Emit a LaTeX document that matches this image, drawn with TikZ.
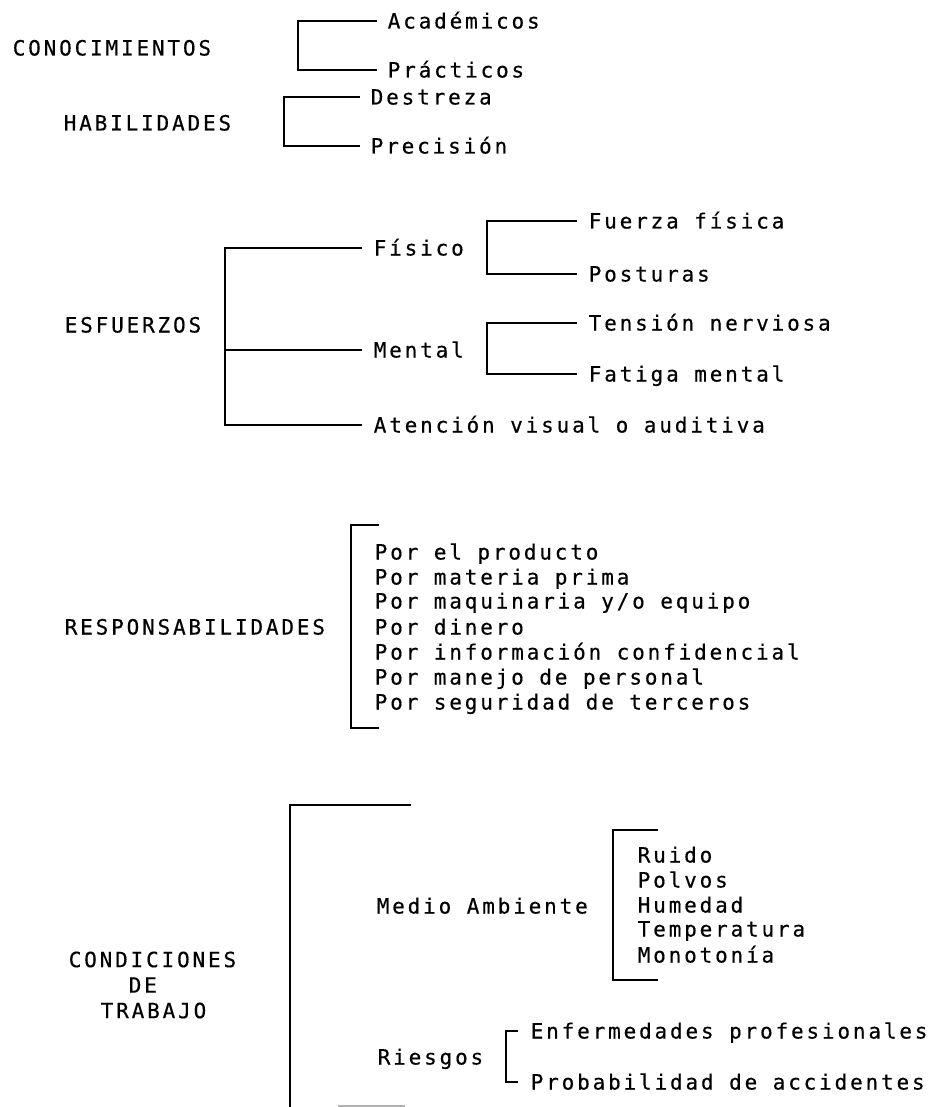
\documentclass[tikz,border=0pt]{standalone}
\usepackage{fontspec}
\setmainfont{DejaVu Sans Mono}[LetterSpace=13.5,FakeBold=0.4]
\begin{document}
\begin{tikzpicture}[x=1pt,y=-1pt, line width=1.5pt,
  every node/.style={font=\fontsize{21}{25.5}\selectfont, inner sep=0pt},
  lbl/.style={anchor=west, text height=15pt, text depth=0pt},
  leaf/.style={anchor=west, text height=15pt, text depth=0pt, inner xsep=#1},
  leaf/.default=10pt,
  faint/.style={draw=black!30, line width=1.2pt}]
\useasboundingbox (0,0) rectangle (928,1107);

% ---------- CONOCIMIENTOS ----------
\node[lbl] (con) at (12,48) {CONOCIMIENTOS};
\node[leaf=10pt] (acad) at (377,21) {Académicos};
\node[leaf=10pt] (prac) at (377,70) {Prácticos};
\coordinate (b1) at (298,46);
\draw (acad.west) -| (b1) |- (prac.west);

% ---------- HABILIDADES ----------
\node[lbl] (hab) at (63,123) {HABILIDADES};
\node[leaf=10pt] (des) at (360,97) {Destreza};
\node[leaf=10pt] (pre) at (360,146) {Precisión};
\coordinate (b2) at (284,121);
\draw (des.west) -| (b2) |- (pre.west);

% ---------- ESFUERZOS ----------
\node[lbl] (esf) at (64,325) {ESFUERZOS};
\node[leaf=11pt] (fis) at (362,248) {Físico};
\node[leaf=11pt] (men) at (362,350) {Mental};
\node[leaf=11pt] (ate) at (362,425) {Atención visual o auditiva};
\coordinate (e1) at (225,330);
\draw (fis.west) -| (e1) |- (ate.west);
\draw (men.west) -- (men.west -| e1);

\node[leaf=11pt] (fue) at (577,221) {Fuerza física};
\node[leaf=11pt] (pos) at (577,274) {Posturas};
\coordinate (f1) at (487,247);
\draw (fue.west) -| (f1) |- (pos.west);

\node[leaf=11pt] (ten) at (577,323) {Tensión nerviosa};
\node[leaf=11pt] (fat) at (577,374) {Fatiga mental};
\coordinate (m1) at (487,348);
\draw (ten.west) -| (m1) |- (fat.west);

% ---------- RESPONSABILIDADES ----------
\node[lbl] (resp) at (64,627) {RESPONSABILIDADES};
\node[lbl] (r1) at (374,552) {Por el producto};
\node[lbl] (r2) at (374,577) {Por materia prima};
\node[lbl] (r3) at (374,601) {Por maquinaria y/o equipo};
\node[lbl] (r4) at (374,627) {Por dinero};
\node[lbl] (r5) at (374,652) {Por información confidencial};
\node[lbl] (r6) at (374,677) {Por manejo de personal};
\node[lbl] (r7) at (374,702) {Por seguridad de terceros};
\coordinate (rt) at (379,525);
\coordinate (rb) at (379,728);
\coordinate (rv) at (351,627);
\draw (rt) -| (rv) |- (rb);

% ---------- CONDICIONES DE TRABAJO ----------
\node[anchor=west, align=left] (cond) at (68,985)
  {CONDICIONES\\\hspace*{60pt}DE\\\hspace*{32pt}TRABAJO};
\coordinate (ct) at (411,805);
\coordinate (cb) at (290,1107);
\draw (ct) -| (cb);
\coordinate (cg1) at (338,1106);
\coordinate (cg2) at (405,1106);
\draw[faint] (cg1) -- (cg2);

\node[lbl] (med) at (376,906) {Medio Ambiente};
\node[lbl] (m_1) at (637,855) {Ruido};
\node[lbl] (m_2) at (637,880) {Polvos};
\node[lbl] (m_3) at (637,905) {Humedad};
\node[lbl] (m_4) at (637,929) {Temperatura};
\node[lbl] (m_5) at (637,955) {Monotonía};
\coordinate (mt) at (658,830);
\coordinate (mb) at (658,980);
\coordinate (mv) at (613,905);
\draw (mt) -| (mv) |- (mb);

\node[lbl] (rie) at (377,1057) {Riesgos};
\node[leaf=12pt] (enf) at (518,1031) {Enfermedades profesionales};
\node[leaf=12pt] (pro) at (518,1082) {Probabilidad de accidentes};
\coordinate (rv2) at (506,1057);
\draw (enf.west) -| (rv2) |- (pro.west);
\end{tikzpicture}
\end{document}
